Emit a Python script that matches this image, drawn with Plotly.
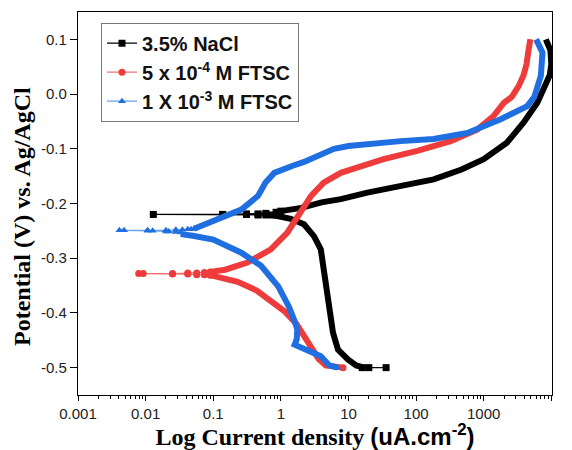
import plotly.graph_objects as go

# ---------------- data (current density in uA/cm2, potential in V) ----------------
# 3.5% NaCl
nacl_tail_i = [36, 20, 16]
nacl_tail_v = [-0.5, -0.5, -0.5]
nacl_cath_i = [16, 13, 9.8, 7.0, 5.9, 5.5, 5.2, 4.6, 4.3, 3.9, 3.1, 2.2, 1.4, 1.0, 0.75]
nacl_cath_v = [-0.499, -0.496, -0.485, -0.467, -0.436, -0.41, -0.375, -0.34, -0.314, -0.284, -0.26, -0.238, -0.228, -0.223, -0.221]
nacl_ecorr_i = [0.75, 0.6, 0.46, 0.31, 0.138, 0.013, 0.138, 0.31, 0.46, 0.6, 0.85, 1.0]
nacl_ecorr_v = [-0.221, -0.221, -0.221, -0.22, -0.22, -0.22, -0.22, -0.219, -0.219, -0.218, -0.216, -0.214]
nacl_anod_i = [1.0, 2.0, 4.0, 7.7, 19, 59, 182, 470, 1000, 2200, 3900, 6200, 8300, 9500, 10000, 9700, 8300]
nacl_anod_v = [-0.214, -0.208, -0.198, -0.192, -0.18, -0.168, -0.156, -0.138, -0.119, -0.089, -0.052, -0.016, 0.015, 0.035, 0.055, 0.08, 0.1]

# 5 x 10^-4 M FTSC
f5_tail_i = [8.3]
f5_tail_v = [-0.5]
f5_cath_i = [8.3, 7.6, 4.6, 3.6, 2.8, 2.2, 1.7, 1.16, 0.71, 0.44, 0.23, 0.13, 0.09]
f5_cath_v = [-0.5, -0.499, -0.496, -0.484, -0.462, -0.444, -0.42, -0.398, -0.377, -0.359, -0.343, -0.335, -0.331]
f5_ecorr_i = [0.09, 0.074, 0.057, 0.042, 0.025, 0.0092, 0.0079, 0.025, 0.042, 0.057, 0.074, 0.09]
f5_ecorr_v = [-0.331, -0.33, -0.33, -0.329, -0.329, -0.328, -0.328, -0.328, -0.327, -0.327, -0.326, -0.325]
f5_anod_i = [0.09, 0.15, 0.32, 0.71, 1.25, 1.97, 2.8, 4.3, 7.7, 10.8, 33, 104, 325, 800, 1400, 1670, 1980, 2600, 3300, 3900, 4300, 4600, 4900]
f5_anod_v = [-0.325, -0.321, -0.308, -0.284, -0.253, -0.217, -0.186, -0.162, -0.144, -0.138, -0.119, -0.104, -0.086, -0.065, -0.04, -0.028, -0.016, -0.005, 0.015, 0.035, 0.055, 0.08, 0.1]

# 1 x 10^-3 M FTSC
f1_tail_i = [6.9]
f1_tail_v = [-0.5]
f1_cath_i = [6.9, 5.2, 3.9, 2.2, 1.6, 1.72, 1.75, 1.6, 1.32, 0.92, 0.51, 0.26, 0.10, 0.05, 0.033]
f1_cath_v = [-0.5, -0.496, -0.479, -0.467, -0.458, -0.448, -0.43, -0.415, -0.389, -0.352, -0.314, -0.29, -0.266, -0.259, -0.256]
f1_ecorr_i = [0.033, 0.028, 0.022, 0.02, 0.0127, 0.0107, 0.0048, 0.0041, 0.0107, 0.02, 0.028, 0.035, 0.042, 0.047, 0.052]
f1_ecorr_v = [-0.253, -0.252, -0.251, -0.251, -0.25, -0.25, -0.249, -0.249, -0.249, -0.249, -0.248, -0.248, -0.247, -0.247, -0.246]
f1_anod_i = [0.052, 0.10, 0.26, 0.46, 0.59, 0.8, 1.1, 1.5, 2.2, 3.1, 4.5, 6.1, 10, 19, 59, 182, 575, 1780, 4400, 5600, 7000, 7400, 6500, 5960]
f1_anod_v = [-0.246, -0.232, -0.211, -0.186, -0.162, -0.144, -0.136, -0.131, -0.124, -0.116, -0.107, -0.1, -0.095, -0.091, -0.086, -0.082, -0.071, -0.046, -0.022, -0.005, 0.033, 0.076, 0.095, 0.1]

series_names = ["3.5% NaCl", "5 x 10<sup>-4</sup> M FTSC", "1 X 10<sup>-3</sup> M FTSC"]
series_colors = ["#000000", "#EE3B3B", "#1F6FE0"]
thin_colors = ["#000000", "#F07070", "#6A9FEA"]
series_symbols = ["square", "circle", "triangle-up"]

x_tick_vals = [0.001, 0.01, 0.1, 1, 10, 100, 1000, 10000]
x_tick_text = ["0.001", "0.01", "0.1", "1", "10", "100", "1000", "10000"]
y_tick_vals = [0.1, 0.0, -0.1, -0.2, -0.3, -0.4, -0.5]
y_tick_text = ["0.1", "0.0", "-0.1", "-0.2", "-0.3", "-0.4", "-0.5"]

x_minor_vals = [m * d for d in x_tick_vals[:-1] for m in range(2, 10)]


def joined(*parts):
    out = []
    for k, p in enumerate(parts):
        if k:
            out.append(None)
        out.extend(p)
    return out


data_sets = [
    (nacl_tail_i, nacl_tail_v, nacl_cath_i, nacl_cath_v, nacl_ecorr_i, nacl_ecorr_v, nacl_anod_i, nacl_anod_v),
    (f5_tail_i, f5_tail_v, f5_cath_i, f5_cath_v, f5_ecorr_i, f5_ecorr_v, f5_anod_i, f5_anod_v),
    (f1_tail_i, f1_tail_v, f1_cath_i, f1_cath_v, f1_ecorr_i, f1_ecorr_v, f1_anod_i, f1_anod_v),
]

fig = go.Figure()
for k, (ti, tv, ci, cv, ei, ev, ai, av) in enumerate(data_sets):
    # dense measurement bands
    fig.add_trace(go.Scatter(
        x=joined(ci, ai), y=joined(cv, av), mode="lines",
        line=dict(color=series_colors[k], width=6),
        showlegend=False, hoverinfo="skip"))
    # sparse points near Ecorr and at the scan start
    fig.add_trace(go.Scatter(
        x=joined(ti, ei), y=joined(tv, ev), mode="lines+markers",
        name=series_names[k],
        line=dict(color=thin_colors[k], width=1.2),
        marker=dict(color=series_colors[k], symbol=series_symbols[k], size=7)))

fig.update_layout(
    width=572, height=450,
    margin=dict(l=78, r=20, t=12, b=55),
    plot_bgcolor="white", paper_bgcolor="white",
    legend=dict(x=0.0485, y=0.972, xanchor="left", yanchor="top",
                bordercolor="#777777", borderwidth=1, bgcolor="white",
                font=dict(family="Liberation Sans, Arial", size=20, color="#111111", weight="bold"),
                tracegroupgap=0),
    annotations=[dict(
        text="<b>Potential (V) vs. Ag/AgCl</b>", textangle=-90,
        xref="paper", yref="paper", x=-0.118, y=0.465,
        xanchor="center", yanchor="middle", showarrow=False,
        font=dict(family="Liberation Serif, Times New Roman", size=24, color="black"))],
)
fig.update_xaxes(
    type="log", range=[-3, 4.01],
    tickmode="array", tickvals=x_tick_vals, ticktext=x_tick_text,
    ticks="outside", ticklen=5, tickwidth=1, tickcolor="black",
    minor=dict(tickmode="array", tickvals=x_minor_vals, ticks="outside", ticklen=3,
               tickwidth=1, tickcolor="black", showgrid=False),
    showline=True, linecolor="black", linewidth=1.2, mirror=True,
    showgrid=False, zeroline=False, automargin=False,
    tickfont=dict(family="Liberation Sans, Arial", size=15, color="#222222"),
    title=dict(text="<b>Log Current density <span style='font-family:Liberation Sans, Arial'>(uA.cm<sup>-2</sup>)</span></b>",
               font=dict(family="Liberation Serif, Times New Roman", size=24, color="black"),
               standoff=6),
)
fig.update_yaxes(
    range=[-0.55, 0.15],
    tickmode="array", tickvals=y_tick_vals, ticktext=y_tick_text,
    ticks="outside", ticklen=7, tickwidth=1, tickcolor="black",
    showline=True, linecolor="black", linewidth=1.2, mirror=True,
    showgrid=False, zeroline=False, automargin=False,
    tickfont=dict(family="Liberation Sans, Arial", size=15, color="#222222"),
)

fig.write_html("out.html")
